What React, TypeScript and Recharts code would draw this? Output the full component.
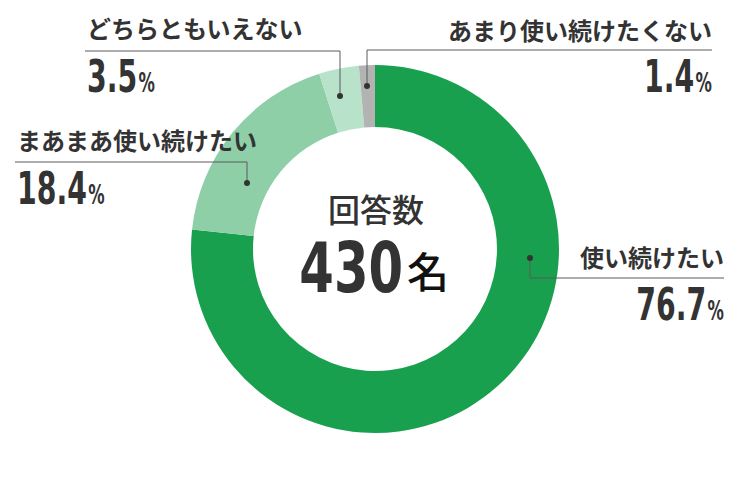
import { Cell, Pie, PieChart } from 'recharts';

const CATEGORIES = ['使い続けたい', 'まあまあ使い続けたい', 'どちらともいえない', 'あまり使い続けたくない'];
const SHARES = [76.7, 18.4, 3.5, 1.4];
const COLORS = ['#19a04e', '#8ecfa7', '#b8e2ca', '#b3b3b3'];
const TOTAL_TITLE = '回答数';
const TOTAL_COUNT = 430;
const TOTAL_UNIT = '名';

const data = CATEGORIES.map((name, i) => ({ name, value: SHARES[i] }));

const CX = 375;
const CY = 249;

// hand-placed callouts, offsets from the pie centre
const CALLOUTS = [
  { dot: [155, 9], lineY: 29, endX: 349, anchor: 'end', nameY: 18, pctY: 71 },
  { dot: [-128, -66], lineY: -87, endX: -360, anchor: 'start', nameY: -99, pctY: -45 },
  { dot: [-35, -153], lineY: -198, endX: -290, anchor: 'start', nameY: -211, pctY: -157 },
  { dot: [-8, -163], lineY: -199, endX: 337, anchor: 'end', nameY: -209, pctY: -157 },
];

const TEXT = '#333333';
const LINE = '#5a5a5a';
const JP = "'Noto Sans CJK JP', 'Noto Sans', sans-serif";
const NUM = "'DejaVu Sans Condensed', 'DejaVu Sans', sans-serif";

function renderCallout(props: any) {
  const { index } = props;
  const cx = props.cx ?? CX;
  const cy = props.cy ?? CY;
  const c = CALLOUTS[index];
  const dx = cx + c.dot[0];
  const dy = cy + c.dot[1];
  const ly = cy + c.lineY;
  const ex = cx + c.endX;
  const tx = c.anchor === 'end' ? ex : ex + 2;
  return (
    <g key={`callout-${index}`}>
      <polyline points={`${dx},${dy} ${dx},${ly} ${ex},${ly}`} fill="none" stroke={LINE} strokeWidth={1} />
      <circle cx={dx} cy={dy} r={3} fill={TEXT} />
      <text x={tx} y={cy + c.nameY} textAnchor={c.anchor} fill={TEXT} fontFamily={JP} fontSize={24} fontWeight={700}>
        {CATEGORIES[index]}
      </text>
      <text
        transform={`translate(${tx},${cy + c.pctY}) scale(0.7,1)`}
        textAnchor={c.anchor}
        fill={TEXT}
        fontFamily={NUM}
        fontWeight="bold"
      >
        <tspan fontSize={45}>{SHARES[index].toFixed(1)}</tspan>
        <tspan fontSize={26} dx={2}>%</tspan>
      </text>
      {index === 0 ? (
        <g>
          <text x={cx + 1} y={cy - 27} textAnchor="middle" fill={TEXT} fontFamily={JP} fontSize={32} fontWeight={500}>
            {TOTAL_TITLE}
          </text>
          <text
            transform={`translate(${cx + 28},${cy + 43}) scale(0.8,1)`}
            textAnchor="end"
            fill={TEXT}
            fontFamily={NUM}
            fontWeight="bold"
            fontSize={69}
          >
            {TOTAL_COUNT}
          </text>
          <text x={cx + 32} y={cy + 39} fill="#111111" fontFamily={JP} fontSize={42} fontWeight={500}>
            {TOTAL_UNIT}
          </text>
        </g>
      ) : null}
    </g>
  );
}

export default function App() {
  return (
    <div style={{ position: 'absolute', left: 0, top: 0, background: '#ffffff' }}>
      <PieChart width={750} height={500} margin={{ top: 0, right: 0, bottom: 0, left: 0 }}>
        <Pie
          data={data}
          dataKey="value"
          nameKey="name"
          cx={CX}
          cy={CY}
          innerRadius={122}
          outerRadius={184}
          startAngle={90}
          endAngle={-270}
          stroke="none"
          labelLine={false}
          label={renderCallout}
          isAnimationActive={false}
        >
          {data.map((d, i) => (
            <Cell key={d.name} fill={COLORS[i]} />
          ))}
        </Pie>
      </PieChart>
    </div>
  );
}
